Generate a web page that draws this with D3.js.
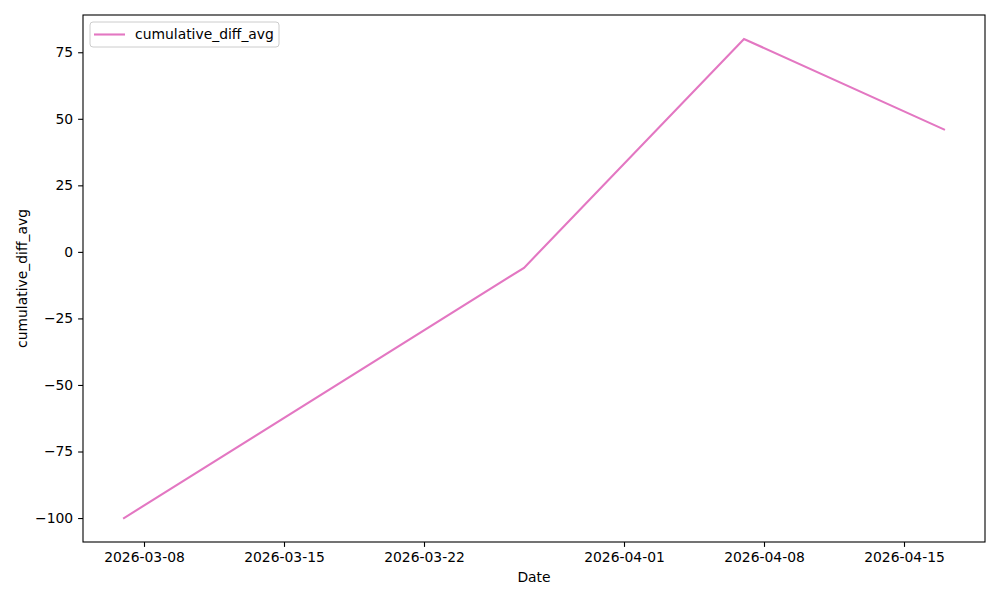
<!DOCTYPE html>
<html>
<head>
<meta charset="utf-8">
<script src="https://cdn.jsdelivr.net/npm/d3@7"></script>
<style>
  body { margin: 0; background: #fff; }
  svg { display: block; font-family: "DejaVu Sans", sans-serif; }
</style>
</head>
<body>
<div id="chart"></div>
<script>
// values
const dates = ["2026-03-07", "2026-03-27", "2026-04-07", "2026-04-17"];
const values = [-100, -6, 80, 46];
const xTicks = ["2026-03-08", "2026-03-15", "2026-03-22", "2026-04-01", "2026-04-08", "2026-04-15"];
const yTicks = [-100, -75, -50, -25, 0, 25, 50, 75];
const seriesName = "cumulative_diff_avg";

const width = 1000, height = 600;
const margin = {top: 15, right: 15, bottom: 58, left: 83};
const color = "#e377c2";
const fontSize = 13.9;

const parse = d3.utcParse("%Y-%m-%d");
const data = dates.map((d, i) => ({date: parse(d), value: values[i]}));

// matplotlib style 5% padding on both axes
const xExt = d3.extent(data, d => +d.date);
const xPad = (xExt[1] - xExt[0]) * 0.05;
const yExt = d3.extent(data, d => d.value);
const yPad = (yExt[1] - yExt[0]) * 0.05;

const x = d3.scaleUtc()
    .domain([new Date(xExt[0] - xPad), new Date(xExt[1] + xPad)])
    .range([margin.left, width - margin.right]);
const y = d3.scaleLinear()
    .domain([yExt[0] - yPad, yExt[1] + yPad])
    .range([height - margin.bottom, margin.top]);

const svg = d3.select("#chart").append("svg")
    .attr("width", width)
    .attr("height", height)
    .attr("font-size", fontSize);

const fmtY = d => d < 0 ? "\u2212" + Math.abs(d) : String(d);

const xAxis = svg.append("g")
    .attr("transform", `translate(0,${height - margin.bottom})`)
    .call(d3.axisBottom(x)
      .tickValues(xTicks.map(parse))
      .tickFormat(d3.utcFormat("%Y-%m-%d"))
      .tickSizeInner(4.9).tickSizeOuter(0).tickPadding(4.9));
const yAxis = svg.append("g")
    .attr("transform", `translate(${margin.left},0)`)
    .call(d3.axisLeft(y)
      .tickValues(yTicks)
      .tickFormat(fmtY)
      .tickSizeInner(4.9).tickSizeOuter(0).tickPadding(4.9));

[xAxis, yAxis].forEach(g => {
  g.select(".domain").remove();
  g.selectAll(".tick line").attr("stroke", "#000").attr("stroke-width", 1.1);
  g.selectAll(".tick text").attr("fill", "#000").attr("font-size", fontSize)
    .attr("font-family", "DejaVu Sans, sans-serif");
});

// line
svg.append("path")
    .datum(data)
    .attr("fill", "none")
    .attr("stroke", color)
    .attr("stroke-width", 2.1)
    .attr("stroke-linecap", "square")
    .attr("d", d3.line().x(d => x(d.date)).y(d => y(d.value)));

// axes frame
svg.append("rect")
    .attr("x", margin.left)
    .attr("y", margin.top)
    .attr("width", width - margin.left - margin.right)
    .attr("height", height - margin.top - margin.bottom)
    .attr("fill", "none")
    .attr("stroke", "#000")
    .attr("stroke-width", 1.1);

// labels
svg.append("text")
    .attr("x", (margin.left + width - margin.right) / 2)
    .attr("y", 582)
    .attr("text-anchor", "middle")
    .text("Date");
svg.append("text")
    .attr("transform", `translate(27,${(margin.top + height - margin.bottom) / 2}) rotate(-90)`)
    .attr("text-anchor", "middle")
    .text(seriesName);

// legend
const lg = svg.append("g").attr("transform", `translate(${margin.left + 7},${margin.top + 7})`);
lg.append("rect")
    .attr("width", 189).attr("height", 25).attr("rx", 3)
    .attr("fill", "#fff").attr("fill-opacity", 0.8)
    .attr("stroke", "#ccc").attr("stroke-width", 1);
lg.append("line")
    .attr("x1", 4).attr("x2", 35).attr("y1", 12.5).attr("y2", 12.5)
    .attr("stroke", color).attr("stroke-width", 2.1);
lg.append("text")
    .attr("x", 45).attr("y", 12.5).attr("dy", "0.35em")
    .text(seriesName);
</script>
</body>
</html>
